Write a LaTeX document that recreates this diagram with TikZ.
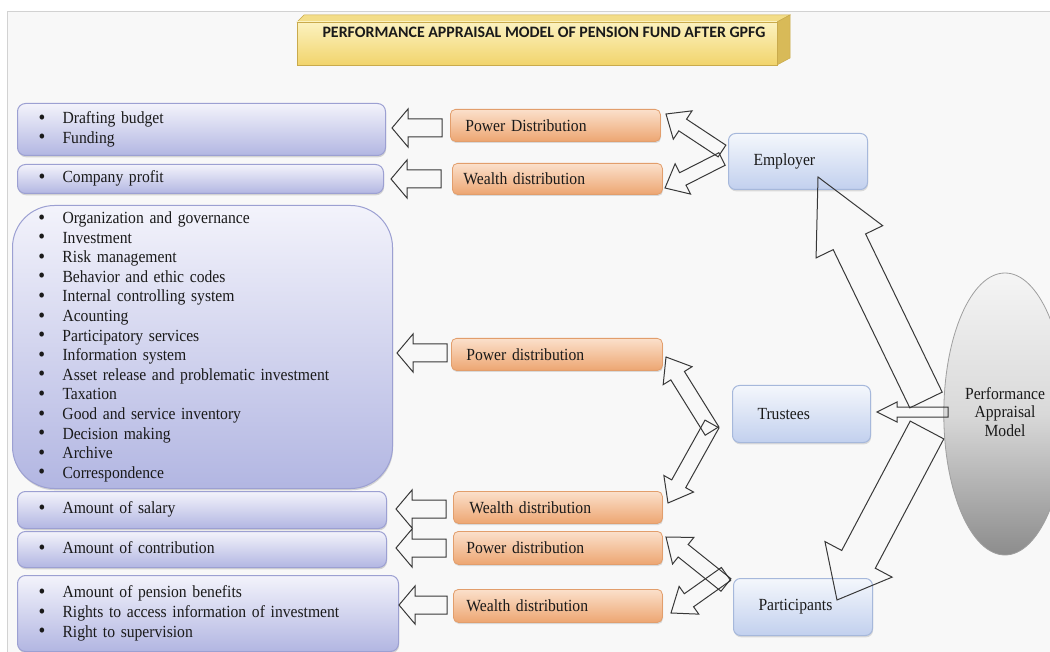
\documentclass[tikz,border=0pt]{standalone}
\usepackage{fontspec}
\setmainfont{Liberation Serif}[FakeStretch=0.92]
\newfontfamily\titlefont{Carlito}
\usetikzlibrary{calc,shapes.geometric,shadows}

\definecolor{bgc}{HTML}{F8F8F8}
\definecolor{framec}{HTML}{D2D2D2}
\definecolor{lbtop}{HTML}{F3F3FB}
\definecolor{lbbot}{HTML}{B2B6E2}
\definecolor{lbdraw}{HTML}{9CA0D2}
\definecolor{rbtop}{HTML}{F4F7FC}
\definecolor{rbbot}{HTML}{C2D0EE}
\definecolor{rbdraw}{HTML}{A6B8DB}
\definecolor{ortop}{HTML}{FBE0CB}
\definecolor{orbot}{HTML}{EDA672}
\definecolor{ordraw}{HTML}{E29E6C}
\definecolor{ytop}{HTML}{FCF2C0}
\definecolor{ybot}{HTML}{F1D46C}
\definecolor{ytopface}{HTML}{F3DD88}
\definecolor{yside}{HTML}{D8BA58}
\definecolor{ydraw}{HTML}{C9AA4C}
\definecolor{ink}{HTML}{1A1A1A}
\definecolor{arrowc}{HTML}{383838}

\newcommand{\itm}[1]{\makebox[24pt][l]{\raisebox{-0.6pt}{\fontsize{21}{19.6}\selectfont\textbullet}}#1\\}
\newcommand{\lst}[2][0pt]{\raisebox{#1}{\begin{tabular}{@{}l@{}}#2\end{tabular}}}
\newcommand{\hollowarrow}[5]{%
  \coordinate (hb) at ($(#2)!#5!(#1)$);
  \draw[hollow] ($(#1)!#3!90:(#2)$) -- ($(hb)!#3!-90:(#1)$) -- ($(hb)!#4!-90:(#1)$)
    -- (#2) -- ($(hb)!#4!90:(#1)$) -- ($(hb)!#3!90:(#1)$) -- ($(#1)!#3!-90:(#2)$) -- cycle;}

\tikzset{
  basefont/.style={font=\fontsize{17}{19.6}\selectfont, text=ink},
  lbox/.style={basefont, draw=lbdraw, line width=1pt, rounded corners=8pt,
    top color=lbtop, bottom color=lbbot, anchor=north west, inner xsep=21pt, inner ysep=0pt,
    drop shadow={shadow xshift=0.6pt, shadow yshift=-1.8pt, opacity=0.3}},
  rbox/.style={basefont, draw=rbdraw, line width=1pt, rounded corners=7pt,
    top color=rbtop, bottom color=rbbot, anchor=north west, inner xsep=25pt, align=left,
    drop shadow={shadow xshift=0.6pt, shadow yshift=-1.8pt, opacity=0.25}},
  obox/.style={basefont, draw=ordraw, line width=0.8pt, rounded corners=5pt,
    top color=ortop, bottom color=orbot, anchor=north west, align=left, inner ysep=0pt,
    drop shadow={shadow xshift=0.6pt, shadow yshift=-1.6pt, opacity=0.25}},
  hollow/.style={draw=arrowc, line width=1pt, line join=miter},
}

\begin{document}
\begin{tikzpicture}[x=1pt,y=-1pt]
\clip (0,0) rectangle (1050,652);
\fill[white] (0,0) rectangle (1050,652);
\fill[bgc] (7.5,11) rectangle (1060,660);
\draw[framec, line width=0.8pt] (7.5,660) -- (7.5,11) -- (1060,11);

% title banner
\fill[ytopface, draw=ydraw, line width=0.5pt] (297,22) -- (304,15) -- (790,15) -- (777,22) -- cycle;
\fill[yside, draw=ydraw, line width=0.5pt] (777,22) -- (790,15) -- (790,58) -- (777,65) -- cycle;
\shade[top color=ytop, bottom color=ybot, draw=ydraw, line width=0.5pt] (297,22) rectangle (777,65);
\node[font=\titlefont\bfseries\fontsize{15.9}{18}\selectfont, text=ink] (title) at (544,32)
  {PERFORMANCE APPRAISAL MODEL OF PENSION FUND AFTER GPFG};

% left boxes
\node[lbox, minimum width=368pt, minimum height=52pt, text width=326pt] (b1) at (17,103)
  {\lst{\itm{Drafting budget}\itm{Funding}}};
\node[lbox, minimum width=366pt, minimum height=29pt, text width=324pt] (b2) at (17,164)
  {\lst{\itm{Company profit}}};
\node[lbox, rounded corners=42pt, minimum width=380pt, minimum height=283pt, text width=338pt, inner xsep=21pt] (b3) at (12,205)
  {\hspace*{5pt}\lst[3pt]{\itm{Organization and governance}\itm{Investment}\itm{Risk management}%
   \itm{Behavior and ethic codes}\itm{Internal controlling system}\itm{Acounting}%
   \itm{Participatory services}\itm{Information system}\itm{Asset release and problematic investment}%
   \itm{Taxation}\itm{Good and service inventory}\itm{Decision making}\itm{Archive}\itm{Correspondence}}};
\node[lbox, minimum width=369pt, minimum height=37pt, text width=327pt] (b4) at (17,491)
  {\lst{\itm{Amount of salary}}};
\node[lbox, minimum width=369pt, minimum height=36pt, text width=327pt] (b5) at (17,531)
  {\lst{\itm{Amount of contribution}}};
\node[lbox, minimum width=381pt, minimum height=76pt, text width=339pt] (b6) at (17,575)
  {\lst[6pt]{\itm{Amount of pension benefits}\itm{Rights to access information of investment}\itm{Right to supervision}}};

% orange boxes
\node[obox, minimum width=210pt, minimum height=32pt, inner xsep=15pt, text width=180pt] (pd1) at (450,109) {Power Distribution};
\node[obox, minimum width=210pt, minimum height=31pt, inner xsep=11pt, text width=188pt] (wd1) at (452,163) {Wealth distribution};
\node[obox, minimum width=211pt, minimum height=32pt, inner xsep=15pt, text width=181pt] (pd3) at (451,338) {Power distribution};
\node[obox, minimum width=209pt, minimum height=32pt, inner xsep=16pt, text width=177pt] (wd4) at (453,491) {Wealth distribution};
\node[obox, minimum width=209pt, minimum height=33pt, inner xsep=13pt, text width=183pt] (pd5) at (453,531) {Power distribution};
\node[obox, minimum width=209pt, minimum height=33pt, inner xsep=13pt, text width=183pt] (wd6) at (453,589) {Wealth distribution};

% right boxes
\node[rbox, minimum width=139pt, minimum height=56pt, text width=89pt] (emp) at (728,133) {\raisebox{2pt}{Employer}};
\node[rbox, minimum width=138pt, minimum height=57pt, text width=88pt] (tru) at (732,385) {Trustees};
\node[rbox, minimum width=139pt, minimum height=57pt, text width=89pt] (par) at (733,578) {Participants};

% ellipse
\node[ellipse, basefont, draw=gray!75, line width=0.8pt, minimum width=106pt, minimum height=282pt,
  top color=white!96!black, bottom color=black!45, middle color=black!15] (pam) at (1005,414)
  {\raisebox{4pt}{\fontsize{17}{18.5}\selectfont\begin{tabular}{@{}c@{}}Performance\\Appraisal\\Model\end{tabular}}};

% arrow end points
\coordinate (a1s) at (442,128); \coordinate (a1e) at (392,128);
\coordinate (a2s) at (441,179); \coordinate (a2e) at (391,179);
\coordinate (a3s) at (447,353); \coordinate (a3e) at (397,353);
\coordinate (a4s) at (446,509); \coordinate (a4e) at (396,509);
\coordinate (a5s) at (446,548); \coordinate (a5e) at (396,548);
\coordinate (a6s) at (447,605); \coordinate (a6e) at (399,605);

\coordinate (ef1) at (722,151); \coordinate (et1) at (666,114);
\coordinate (ef2) at (722,159); \coordinate (et2) at (665,188);
\coordinate (tf1) at (712,431); \coordinate (tt1) at (666,357);
\coordinate (tf2) at (712,424); \coordinate (tt2) at (668,503);
\coordinate (pf1) at (726,585); \coordinate (pt1) at (666,537);
\coordinate (pf2) at (726,574); \coordinate (pt2) at (671,613);

\coordinate (me) at (926,400); \coordinate (mee) at (818,177);
\coordinate (mt) at (948,412); \coordinate (mte) at (877,412);
\coordinate (mp) at (927,430); \coordinate (mpe) at (837,600);

% left hollow arrows
\hollowarrow{a1s}{a1e}{9pt}{19pt}{16pt}
\hollowarrow{a2s}{a2e}{9pt}{19pt}{16pt}
\hollowarrow{a3s}{a3e}{9pt}{19pt}{16pt}
\hollowarrow{a4s}{a4e}{9pt}{19pt}{16pt}
\hollowarrow{a5s}{a5e}{9pt}{19pt}{16pt}
\hollowarrow{a6s}{a6e}{9pt}{19pt}{16pt}

% forks
\hollowarrow{ef1}{et1}{7pt}{17pt}{20pt}
\hollowarrow{ef2}{et2}{7pt}{17pt}{20pt}
\hollowarrow{tf1}{tt1}{8pt}{17pt}{22pt}
\hollowarrow{tf2}{tt2}{8pt}{17pt}{22pt}
\hollowarrow{pf1}{pt1}{8pt}{17pt}{22pt}
\hollowarrow{pf2}{pt2}{8pt}{17pt}{22pt}

% big arrows from the model
\hollowarrow{me}{mee}{18pt}{37pt}{72pt}
\hollowarrow{mt}{mte}{5pt}{10pt}{20pt}
\hollowarrow{mp}{mpe}{19pt}{38pt}{46pt}
\end{tikzpicture}
\end{document}
